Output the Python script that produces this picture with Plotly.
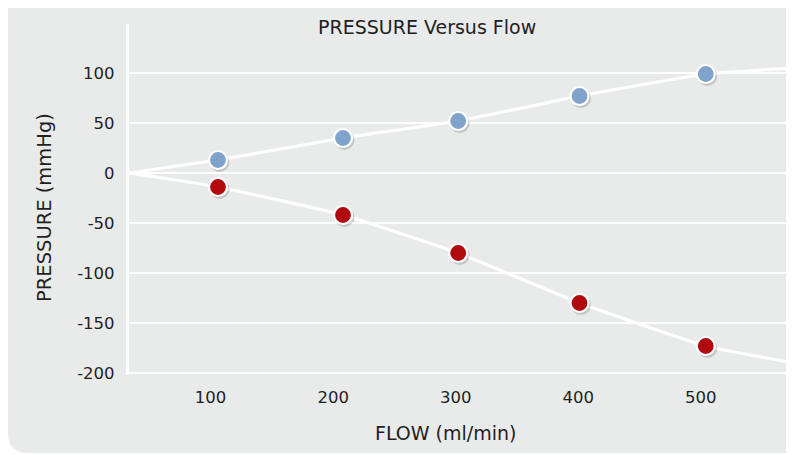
import plotly.graph_objects as go

# ---- data ----
flow_pts = [106, 208, 302, 401, 504]
pressure_blue = [13, 35, 52, 77, 99]
pressure_red = [-14, -42, -80, -130, -173]

# trend lines (start at axis origin, run off the right edge)
line_x = [33.4, 106, 208, 302, 401, 504, 576]
line_blue = [0, 13, 35, 52, 77, 99, 105]
line_red = [0, -14, -42, -80, -130, -173, -190]

x_ticks = [100, 200, 300, 400, 500]
y_ticks = [-200, -150, -100, -50, 0, 50, 100]
y_tick_labels = ["-200", "-150", "-100", "-50", "0", "50", "100"]

X_RANGE = [33.4, 576]
Y_RANGE = [-202, 149]

BG = "#E9EAEA"
BLUE = "#7FA3CB"
RED = "#B10A0E"
TXT = "#1f1f1f"
FONT = "DejaVu Sans"

OFF = 8  # page body margin
W, H = 786, 445
ML, MR, MT, MB = 121, 0, 16, 78
PW, PH = W - ML - MR, H - MT - MB

fig = go.Figure()

# shadow offsets (in data units, via overlay axes)
dx = 1.5 * (X_RANGE[1] - X_RANGE[0]) / PW
dy = 2.0 * (Y_RANGE[1] - Y_RANGE[0]) / PH

for yv in (line_blue, line_red):
    fig.add_trace(go.Scatter(x=line_x, y=yv, mode="lines",
                             line=dict(color="white", width=3.2, shape="spline", smoothing=0.4),
                             hoverinfo="skip", showlegend=False))

for yv in (pressure_blue, pressure_red):
    fig.add_trace(go.Scatter(x=flow_pts, y=yv, mode="markers", xaxis="x2", yaxis="y2",
                             marker=dict(size=20, color="rgba(0,0,0,0.16)", line=dict(width=0)),
                             hoverinfo="skip", showlegend=False))

for yv, c in ((pressure_blue, BLUE), (pressure_red, RED)):
    fig.add_trace(go.Scatter(x=flow_pts, y=yv, mode="markers", xaxis="x3", yaxis="y3",
                             marker=dict(size=18, color=c, line=dict(color="white", width=2.2)),
                             showlegend=False))


# screen (reference) pixel -> paper fraction of the plot area
def fx(px):
    return (px - OFF - ML) / PW


def fy(py):
    return (H - MB - (py - OFF)) / PH


# background panel with rounded bottom-left corner
r = 20
L, T, R, B = OFF, OFF - 2, OFF + W + 4, OFF + H
path = (f"M {fx(L)},{fy(T)} L {fx(R)},{fy(T)} L {fx(R)},{fy(B)} "
        f"L {fx(L + r)},{fy(B)} Q {fx(L)},{fy(B)} {fx(L)},{fy(B - r)} Z")

fig.update_layout(
    width=W, height=H,
    margin=dict(l=ML, r=MR, t=MT, b=MB, pad=0),
    paper_bgcolor="white",
    plot_bgcolor=BG,
    font=dict(family=FONT, size=17, color=TXT),
    showlegend=False,
    shapes=[dict(type="path", xref="paper", yref="paper", path=path,
                 fillcolor=BG, line=dict(width=0), layer="below")],
    xaxis=dict(range=X_RANGE, tickvals=x_ticks, showgrid=False, zeroline=False,
               showline=False, ticks="", ticklabelstandoff=10,
               tickfont=dict(size=16.5, color=TXT)),
    yaxis=dict(range=Y_RANGE, tickvals=y_ticks, ticktext=y_tick_labels,
               showgrid=True, gridcolor="white",
               gridwidth=2.4, zeroline=False, showline=True, linecolor="white",
               linewidth=3.2, ticks="", ticklabelstandoff=8,
               tickfont=dict(size=16.5, color=TXT)),
    xaxis2=dict(range=[X_RANGE[0] - dx, X_RANGE[1] - dx], overlaying="x", visible=False),
    yaxis2=dict(range=[Y_RANGE[0] + dy, Y_RANGE[1] + dy], overlaying="y", visible=False),
    xaxis3=dict(range=X_RANGE, overlaying="x", visible=False),
    yaxis3=dict(range=Y_RANGE, overlaying="y", visible=False),
    annotations=[
        dict(text="PRESSURE Versus Flow", xref="paper", yref="paper",
             x=fx(427), y=fy(26.5), showarrow=False, xanchor="center", yanchor="middle",
             font=dict(size=19, color=TXT, family=FONT)),
        dict(text="FLOW (ml/min)", xref="paper", yref="paper",
             x=fx(445), y=fy(433), showarrow=False, xanchor="center", yanchor="middle",
             font=dict(size=19, color=TXT, family=FONT)),
        dict(text="PRESSURE (mmHg)", xref="paper", yref="paper",
             x=fx(44), y=fy(208), showarrow=False, xanchor="center", yanchor="middle",
             textangle=-90, font=dict(size=19.5, color=TXT, family=FONT)),
    ],
)

fig.write_html("out.html")
